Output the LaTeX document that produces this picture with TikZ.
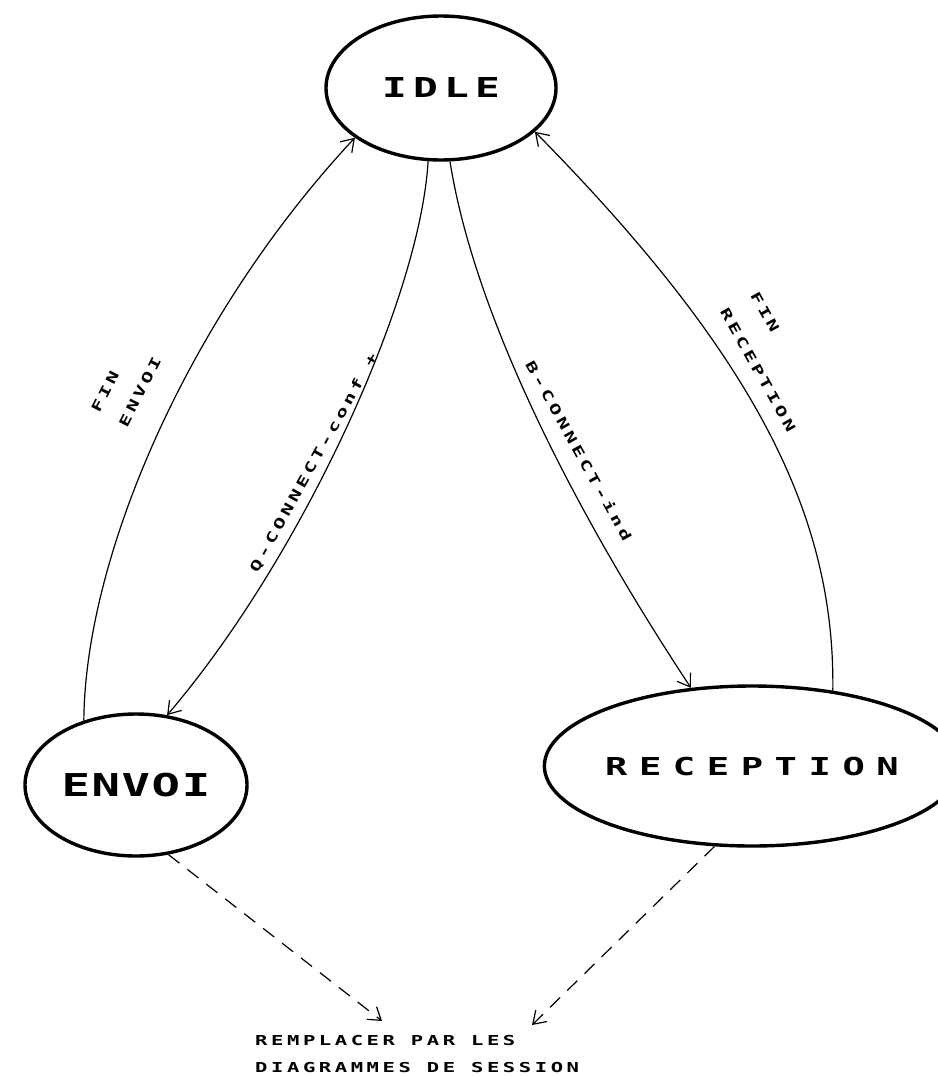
\documentclass[tikz,border=0pt]{standalone}
\usepackage{fontspec}
\usetikzlibrary{shapes.geometric,arrows.meta}
% plotter-like lettering: monospaced, bold, widened
\newfontfamily\plotfont[FakeStretch=1.5]{DejaVu Sans Mono Bold}
\tikzset{
  state/.style={draw, ellipse, line width=3.4pt, inner sep=0pt},
  trans/.style={line width=1.2pt,
    -{Straight Barb[length=12pt,width=16pt,line width=1.2pt]}},
  note/.style={trans, dash pattern=on 14pt off 10pt},
  lbl/.style={inner sep=0pt,
    font=\plotfont\fontsize{13.7}{16}\selectfont\addfontfeature{LetterSpace=26}},
}
\begin{document}
\begin{tikzpicture}[x=1pt,y=-1pt]
  \useasboundingbox[fill=white] (0,0) rectangle (937,1076);

  % states
  \node[state, minimum width=230pt, minimum height=144pt,
        font=\plotfont\fontsize{27.4}{30}\selectfont\addfontfeature{LetterSpace=23}]
        (idle) at (441,88) {IDLE};
  \node[state, minimum width=222pt, minimum height=142pt,
        font=\plotfont\fontsize{31.5}{34}\selectfont\addfontfeature{LetterSpace=5}]
        (envoi) at (136,785) {ENVOI};
  \node[state, minimum width=366pt, minimum height=160pt,
        font=\plotfont\fontsize{24.7}{28}\selectfont\addfontfeature{LetterSpace=47}]
        (reception) at (752,766) {RECEPTION};

  % transitions
  \draw[trans] (envoi.129) .. controls (85,560) and (185,320) .. (idle.210);
  \draw[trans] (idle.260) .. controls (420,300) and (300,560) .. (envoi.66);
  \draw[trans] (idle.277) .. controls (475,320) and (580,520) .. (reception.128);
  \draw[trans] (reception.43) .. controls (835,520) and (760,360) .. (idle.335);

  % transition labels
  \node[lbl, rotate=63] (finA) at (105,392) {FIN};
  \node[lbl, rotate=63] (finB) at (140,392) {ENVOI};
  \node[lbl, rotate=61] (conf) at (314,463) {Q-CONNECT-conf +};
  \node[lbl, rotate=-61] (ind) at (579,451) {B-CONNECT-ind};
  \node[lbl, rotate=-61] (finC) at (765,312) {FIN};
  \node[lbl, rotate=-61] (finD) at (758,370) {RECEPTION};

  % note below the diagram
  \coordinate (noteL) at (382,1021);
  \coordinate (noteR) at (532,1025);
  \draw[note] (envoi.-65) -- (noteL);
  \draw[note] (reception.245) -- (noteR);
  \node[lbl, anchor=west] (note1) at (255,1040) {REMPLACER PAR LES};
  \node[lbl, anchor=west] (note2) at (255,1067) {DIAGRAMMES DE SESSION};
\end{tikzpicture}
\end{document}
